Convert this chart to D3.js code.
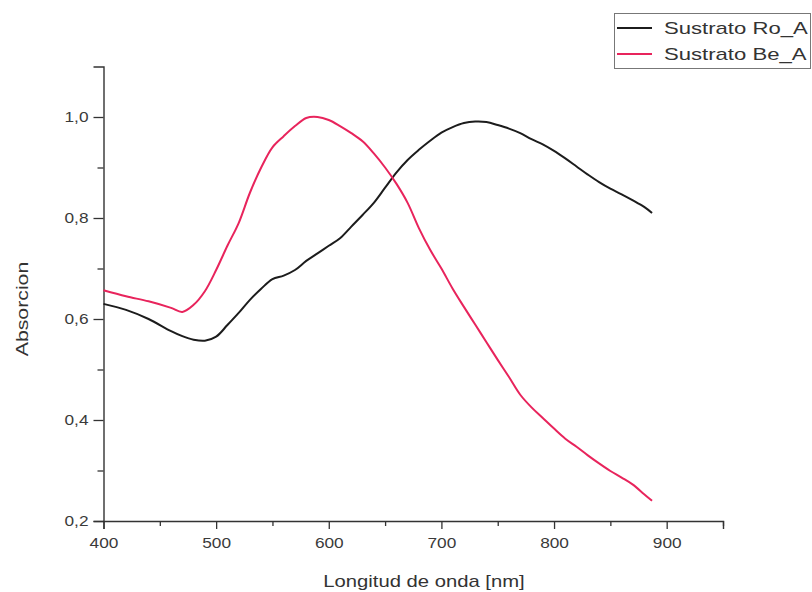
<!DOCTYPE html>
<html>
<head>
<meta charset="utf-8">
<script src="https://cdn.jsdelivr.net/npm/d3@7"></script>
<style>
  html, body { margin: 0; padding: 0; background: #fff; }
  svg { display: block; font-family: "Liberation Sans", Arial, sans-serif; }
</style>
</head>
<body>
<svg id="chart" width="812" height="592"></svg>
<script>
// Wavelength samples (nm)
const wavelengthRo = [400, 420, 440, 460, 470, 480, 490, 500, 510, 520, 530, 540, 550, 560, 570, 580, 590, 600,
  610, 620, 630, 640, 650, 660, 670, 680, 690, 700, 710, 720, 730, 740, 750, 760, 770, 780, 790, 800,
  810, 820, 830, 840, 850, 860, 870, 880, 887];
// Absorbance, substrate Ro_A
const absorbanceRo = [0.630, 0.618, 0.600, 0.576, 0.566, 0.559, 0.557, 0.565, 0.588, 0.612, 0.638, 0.660, 0.679,
  0.686, 0.697, 0.715, 0.730, 0.745, 0.760, 0.783, 0.806, 0.830, 0.860, 0.890, 0.915, 0.935, 0.953, 0.969,
  0.980, 0.988, 0.991, 0.990, 0.984, 0.977, 0.968, 0.956, 0.946, 0.933, 0.918, 0.902, 0.886, 0.871, 0.858,
  0.847, 0.835, 0.822, 0.810];

const wavelengthBe = [400, 420, 440, 460, 470, 480, 490, 500, 510, 520, 530, 540, 550, 560, 570, 580, 590, 600,
  610, 620, 630, 640, 650, 660, 670, 680, 690, 700, 710, 720, 730, 740, 750, 760, 770, 780, 790, 800,
  810, 820, 830, 840, 850, 860, 870, 880, 887];
// Absorbance, substrate Be_A
const absorbanceBe = [0.657, 0.645, 0.635, 0.622, 0.614, 0.628, 0.655, 0.697, 0.745, 0.790, 0.850, 0.900, 0.940,
  0.962, 0.982, 0.998, 1.000, 0.994, 0.982, 0.968, 0.952, 0.928, 0.900, 0.868, 0.830, 0.780, 0.737, 0.700,
  0.660, 0.624, 0.589, 0.554, 0.519, 0.485, 0.450, 0.425, 0.404, 0.383, 0.363, 0.347, 0.330, 0.314, 0.299,
  0.286, 0.272, 0.253, 0.240];

const seriesNames = ["Sustrato Ro_A", "Sustrato Be_A"];
const seriesColors = ["#1c1c1c", "#e8245c"];

const xMajorTicks = [400, 500, 600, 700, 800, 900];
const xMinorTicks = [450, 550, 650, 750, 850, 950];
const yMajorTicks = [0.2, 0.4, 0.6, 0.8, 1.0];
const yMinorTicks = [0.3, 0.5, 0.7, 0.9];

const xTitle = "Longitud de onda [nm]";
const yTitle = "Absorcion";

const svg = d3.select("#chart");
const axisColor = "#333";
const textColor = "#333";

// The labels use a wide face: widen the rendered glyphs horizontally.
function widen(sel, factor) {
  sel.each(function () {
    const w = this.getComputedTextLength();
    d3.select(this).attr("textLength", w * factor).attr("lengthAdjust", "spacingAndGlyphs");
  });
}

const x = d3.scaleLinear().domain([400, 950]).range([103.5, 723]);
const y = d3.scaleLinear().domain([0.2, 1.1]).range([521, 66.5]);

const fmt = v => d3.format(".1f")(v).replace(".", ",");

// X axis
const gx = svg.append("g").attr("transform", `translate(0,${y(0.2)})`);
gx.call(d3.axisBottom(x).tickValues(xMajorTicks).tickSize(8).tickPadding(8).tickFormat(d3.format("d")));
gx.append("g").call(d3.axisBottom(x).tickValues(xMinorTicks).tickSize(5).tickFormat(""))
  .select(".domain").remove();

// Y axis
const gy = svg.append("g").attr("transform", `translate(${x(400)},0)`);
gy.call(d3.axisLeft(y).tickValues(yMajorTicks).tickSize(10).tickPadding(5).tickFormat(fmt));
gy.append("g").call(d3.axisLeft(y).tickValues(yMinorTicks).tickSize(6).tickFormat(""))
  .select(".domain").remove();

svg.selectAll(".domain").attr("stroke", axisColor).attr("stroke-width", 1.4);
svg.selectAll(".tick line").attr("stroke", axisColor).attr("stroke-width", 1.3);
const tickTexts = svg.selectAll(".tick text").attr("fill", "#3a3a3a").style("font-size", "15px")
  .style("font-family", "'Liberation Sans', Arial, sans-serif");
widen(tickTexts, 1.15);

// Axis titles
const xt = svg.append("text")
  .attr("x", 424).attr("y", 587)
  .attr("text-anchor", "middle")
  .attr("fill", textColor).style("font-size", "17px")
  .text(xTitle);
widen(xt, 1.19);

const yt = svg.append("text")
  .attr("transform", `translate(28,${309}) rotate(-90)`)
  .attr("text-anchor", "middle")
  .attr("fill", textColor).style("font-size", "17px")
  .text(yTitle);
widen(yt, 1.25);

// Curves
const line = d3.line()
  .x(d => x(d[0]))
  .y(d => y(d[1]))
  .curve(d3.curveCatmullRom.alpha(0.5));

const series = [
  { name: seriesNames[0], color: seriesColors[0], points: d3.zip(wavelengthRo, absorbanceRo) },
  { name: seriesNames[1], color: seriesColors[1], points: d3.zip(wavelengthBe, absorbanceBe) }
];

svg.append("g").selectAll("path")
  .data(series)
  .join("path")
  .attr("fill", "none")
  .attr("stroke", d => d.color)
  .attr("stroke-width", 2)
  .attr("stroke-linejoin", "round")
  .attr("d", d => line(d.points));

// Legend
const legend = svg.append("g");
legend.append("rect")
  .attr("x", 614.5).attr("y", 13.5).attr("width", 196).attr("height", 55)
  .attr("fill", "#fff").attr("stroke", "#777").attr("stroke-width", 1);

const legendRows = legend.selectAll("g.row")
  .data(series)
  .join("g")
  .attr("class", "row")
  .attr("transform", (d, i) => `translate(0,${28 + i * 26})`);

legendRows.append("line")
  .attr("x1", 617).attr("x2", 652)
  .attr("stroke", d => d.color).attr("stroke-width", 2.2);

const legendTexts = legendRows.append("text")
  .attr("x", 664).attr("dy", "0.36em")
  .attr("fill", textColor).style("font-size", "17px")
  .text(d => d.name);
widen(legendTexts, 1.3);
</script>
</body>
</html>
